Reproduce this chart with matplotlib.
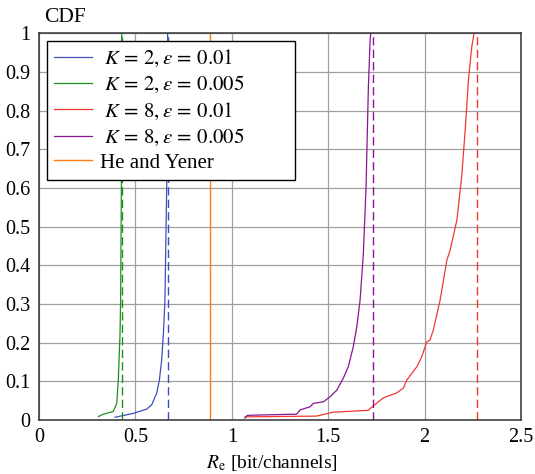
import matplotlib
matplotlib.use("Agg")
import matplotlib.pyplot as plt
from matplotlib.ticker import FormatStrFormatter

plt.rcParams['font.family'] = ['Liberation Serif', 'DejaVu Serif']
plt.rcParams['mathtext.fontset'] = 'stix'

# --- data ---
blue_x = [0.394, 0.489, 0.558, 0.584, 0.610, 0.624, 0.636, 0.645, 0.653, 0.662, 0.667]
blue_y = [0.007, 0.017, 0.028, 0.039, 0.069, 0.103, 0.155, 0.224, 0.310, 0.603, 1.000]

green_x = [0.308, 0.334, 0.385, 0.403, 0.411, 0.420, 0.423, 0.427, 0.429]
green_y = [0.009, 0.015, 0.022, 0.043, 0.103, 0.224, 0.310, 0.600, 1.000]

red_x = [1.068, 1.440, 1.525, 1.707, 1.733, 1.785, 1.855, 1.890, 1.907, 1.960,
         1.985, 2.011, 2.028, 2.045, 2.080, 2.115, 2.132, 2.167, 2.192, 2.210,
         2.227, 2.244, 2.256]
red_y = [0.008, 0.010, 0.020, 0.025, 0.036, 0.057, 0.070, 0.083, 0.103, 0.138,
         0.164, 0.202, 0.207, 0.233, 0.310, 0.413, 0.439, 0.517, 0.629, 0.749,
         0.879, 0.964, 1.000]

purple_x = [1.068, 1.080, 1.336, 1.354, 1.405, 1.423, 1.475, 1.509, 1.544, 1.578,
            1.604, 1.630, 1.648, 1.665, 1.682, 1.696, 1.708, 1.717, 1.720]
purple_y = [0.005, 0.012, 0.015, 0.026, 0.034, 0.043, 0.047, 0.060, 0.077, 0.108,
            0.138, 0.190, 0.241, 0.310, 0.431, 0.603, 0.861, 0.982, 1.000]

# asymptotic bounds (dashed) and He and Yener rate
blue_bound = 0.671
green_bound = 0.429
purple_bound = 1.734
red_bound = 2.273
he_yener = 0.887

labels = [r'$\;K\,=\,2,\varepsilon\,=\,0.01$', r'$\;K\,=\,2,\varepsilon\,=\,0.005$',
          r'$\;K\,=\,8,\varepsilon\,=\,0.01$', r'$\;K\,=\,8,\varepsilon\,=\,0.005$',
          'He and Yener']

c_blue = '#3f4fb8'
c_green = '#1f8f1f'
c_red = '#ee3a30'
c_purple = '#8a1494'
c_orange = '#ff7a10'

fig = plt.figure(figsize=(5.35, 4.74), dpi=100)
ax = fig.add_axes([0.073, 0.114, 0.901, 0.816])

ax.plot(blue_x, blue_y, color=c_blue, lw=0.9, label=labels[0])
ax.plot(green_x, green_y, color=c_green, lw=0.9, label=labels[1])
ax.plot(red_x, red_y, color=c_red, lw=0.9, label=labels[2])
ax.plot(purple_x, purple_y, color=c_purple, lw=0.9, label=labels[3])
ax.axvline(he_yener, color=c_orange, lw=1.0, label=labels[4])

for xb, c in [(blue_bound, c_blue), (green_bound, c_green),
              (purple_bound, c_purple), (red_bound, c_red)]:
    ax.axvline(xb, color=c, lw=1.0, dashes=(6, 3))

ax.set_xlim(0, 2.5)
ax.set_ylim(0, 1)
ax.set_xticks([0, 0.5, 1, 1.5, 2, 2.5])
ax.set_yticks([i / 10 for i in range(11)])
ax.xaxis.set_major_formatter(FormatStrFormatter('%g'))
ax.yaxis.set_major_formatter(FormatStrFormatter('%g'))
ax.tick_params(length=0, labelsize=14.5, pad=6)
ax.grid(True, color='#a0a0a0', lw=0.9)
ax.set_axisbelow(True)
for s in ax.spines.values():
    s.set_color('#333333')
    s.set_linewidth(1.1)

fig.text(0.508, 0.023, r'$R_{\mathrm{e}}$ [bit/channels]', fontsize=14,
         ha='center', va='center')
fig.text(0.1215, 0.963, 'CDF', fontsize=15.5, ha='center', va='center')

leg = ax.legend(loc='upper left', bbox_to_anchor=(0.016, 0.0, 0.515, 0.980),
                mode='expand', fontsize=15,
                fancybox=False, edgecolor='black', framealpha=1,
                handlelength=1.8, handletextpad=0.4, borderaxespad=0,
                labelspacing=0.25, borderpad=0.35)
leg.get_frame().set_linewidth(1.0)

fig.savefig('out.png', dpi=100)
